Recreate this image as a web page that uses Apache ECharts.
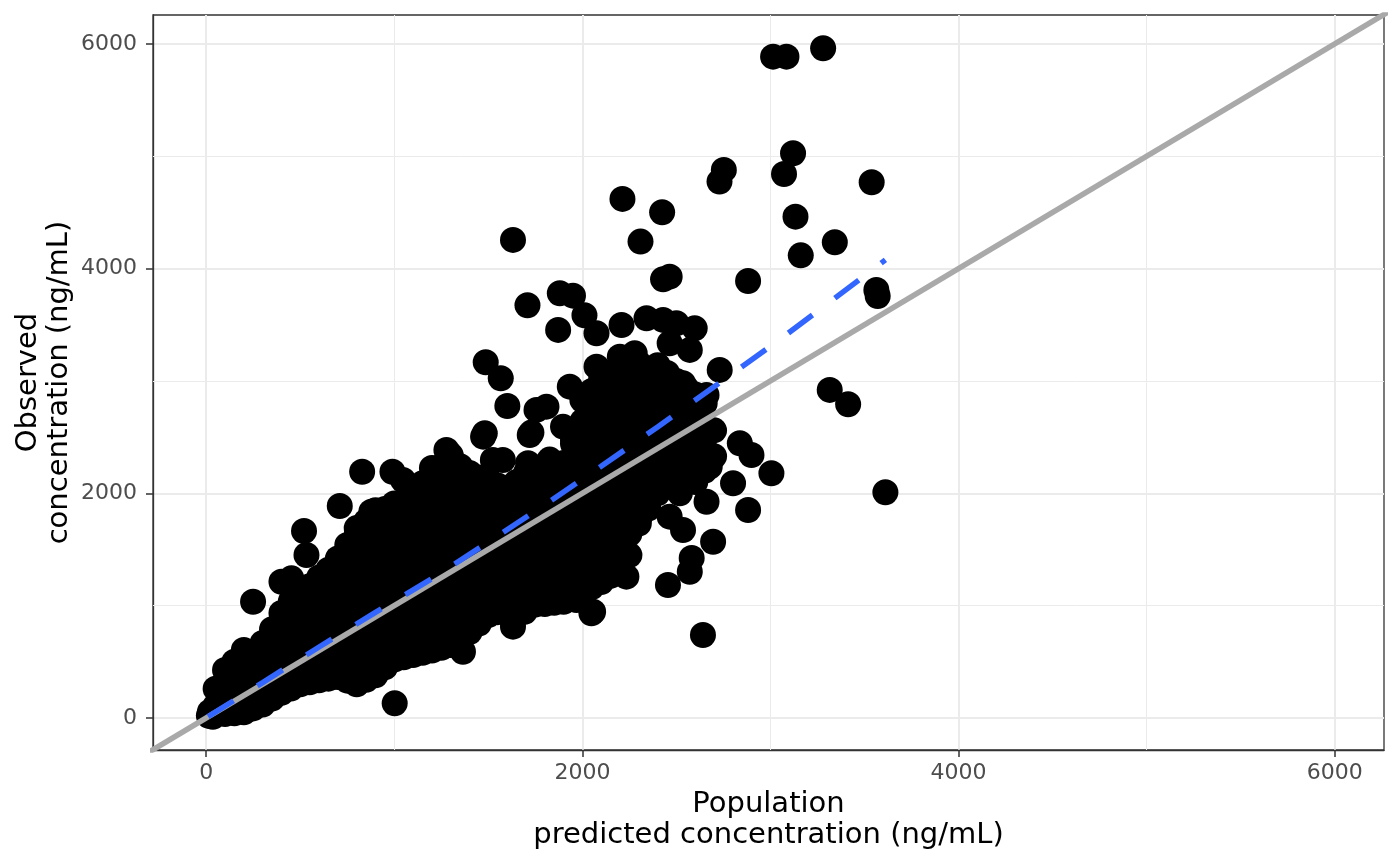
<!DOCTYPE html>
<html>
<head>
<meta charset="utf-8">
<title>Observed vs population predicted concentration</title>
<script src="https://cdn.jsdelivr.net/npm/echarts@6/dist/echarts.min.js"></script>
<style>
  html, body { margin: 0; padding: 0; background: #ffffff; }
  #chart { width: 1400px; height: 866px; }
</style>
</head>
<body>
<div id="chart"></div>
<script>
// axis ranges (ng/mL), same padding ggplot puts round the data
var xRange = [-283, 6262];
var yRange = [-285, 6257];
var majorTicks = [0, 2000, 4000, 6000];
var minorTicks = [1000, 3000, 5000];

// [population predicted, observed] - the solid cloud
var denseCloud = [
  [14, 20], [20, 55], [35, 10], [55, 40], [60, 90], [50, 110], [50, 260],
  [100, 35], [100, 130], [100, 320], [100, 427],
  [150, 42], [150, 137], [150, 327], [150, 500],
  [200, 50], [200, 240], [200, 430], [200, 605],
  [250, 85], [250, 180], [250, 370], [250, 560],
  [300, 120], [300, 210], [300, 400], [300, 590], [300, 668],
  [350, 172], [350, 267], [350, 457], [350, 647], [350, 790],
  [400, 225], [400, 420], [400, 610], [400, 800], [400, 935],
  [450, 262], [450, 357], [450, 547], [450, 737], [450, 927], [450, 1040],
  [500, 300], [500, 400], [500, 590], [500, 780], [500, 970], [500, 1160],
  [550, 317], [550, 412], [550, 602], [550, 792], [550, 982], [550, 1172],
  [600, 335], [600, 530], [600, 720], [600, 910], [600, 1100], [600, 1250],
  [650, 350], [650, 445], [650, 635], [650, 825], [650, 1015], [650, 1205], [650, 1320],
  [700, 365], [700, 460], [700, 650], [700, 840], [700, 1030], [700, 1220], [700, 1420],
  [750, 332], [750, 427], [750, 617], [750, 807], [750, 997], [750, 1187], [750, 1377], [750, 1540],
  [800, 300], [800, 490], [800, 680], [800, 870], [800, 1060], [800, 1250], [800, 1440], [800, 1630], [800, 1690],
  [850, 340], [850, 435], [850, 625], [850, 815], [850, 1005], [850, 1195], [850, 1385], [850, 1575], [850, 1750],
  [900, 380], [900, 475], [900, 665], [900, 855], [900, 1045], [900, 1235], [900, 1425], [900, 1615], [900, 1805], [900, 1850],
  [950, 450], [950, 545], [950, 735], [950, 925], [950, 1115], [950, 1305], [950, 1495], [950, 1685], [950, 1860],
  [1000, 520], [1000, 700], [1000, 890], [1000, 1080], [1000, 1270], [1000, 1460], [1000, 1650], [1000, 1840], [1000, 1910],
  [1050, 540], [1050, 635], [1050, 825], [1050, 1015], [1050, 1205], [1050, 1395], [1050, 1585], [1050, 1775], [1050, 1930],
  [1100, 560], [1100, 655], [1100, 845], [1100, 1035], [1100, 1225], [1100, 1415], [1100, 1605], [1100, 1795], [1100, 1980],
  [1150, 580], [1150, 675], [1150, 865], [1150, 1055], [1150, 1245], [1150, 1435], [1150, 1625], [1150, 1815], [1150, 2005], [1150, 2090],
  [1200, 600], [1200, 790], [1200, 980], [1200, 1170], [1200, 1360], [1200, 1550], [1200, 1740], [1200, 1930], [1200, 2120], [1200, 2225],
  [1250, 625], [1250, 720], [1250, 910], [1250, 1100], [1250, 1290], [1250, 1480], [1250, 1670], [1250, 1860], [1250, 2050], [1250, 2240],
  [1300, 650], [1300, 745], [1300, 935], [1300, 1125], [1300, 1315], [1300, 1505], [1300, 1695], [1300, 1885], [1300, 2075], [1300, 2265], [1300, 2340],
  [1350, 707], [1350, 802], [1350, 992], [1350, 1182], [1350, 1372], [1350, 1562], [1350, 1752], [1350, 1942], [1350, 2132], [1350, 2240],
  [1400, 765], [1400, 950], [1400, 1140], [1400, 1330], [1400, 1520], [1400, 1710], [1400, 1900], [1400, 2090], [1400, 2180],
  [1450, 840], [1450, 935], [1450, 1125], [1450, 1315], [1450, 1505], [1450, 1695], [1450, 1885], [1450, 2075], [1450, 2140],
  [1500, 915], [1500, 1010], [1500, 1200], [1500, 1390], [1500, 1580], [1500, 1770], [1500, 1960], [1500, 2120],
  [1550, 942], [1550, 1037], [1550, 1227], [1550, 1417], [1550, 1607], [1550, 1797], [1550, 1987], [1550, 2070],
  [1600, 970], [1600, 1160], [1600, 1350], [1600, 1540], [1600, 1730], [1600, 1920], [1600, 2050],
  [1650, 987], [1650, 1082], [1650, 1272], [1650, 1462], [1650, 1652], [1650, 1842], [1650, 2032], [1650, 2100],
  [1700, 1005], [1700, 1100], [1700, 1290], [1700, 1480], [1700, 1670], [1700, 1860], [1700, 2050], [1700, 2180],
  [1750, 1010], [1750, 1105], [1750, 1295], [1750, 1485], [1750, 1675], [1750, 1865], [1750, 2055], [1750, 2190],
  [1800, 1015], [1800, 1200], [1800, 1390], [1800, 1580], [1800, 1770], [1800, 1960], [1800, 2150], [1800, 2225],
  [1850, 1025], [1850, 1120], [1850, 1310], [1850, 1500], [1850, 1690], [1850, 1880], [1850, 2070], [1850, 2240],
  [1900, 1035], [1900, 1130], [1900, 1320], [1900, 1510], [1900, 1700], [1900, 1890], [1900, 2080], [1900, 2270],
  [1950, 1077], [1950, 1172], [1950, 1362], [1950, 1552], [1950, 1742], [1950, 1932], [1950, 2122], [1950, 2312], [1950, 2440],
  [2000, 1120], [2000, 1310], [2000, 1500], [2000, 1690], [2000, 1880], [2000, 2070], [2000, 2260], [2000, 2450], [2000, 2640], [2000, 2830],
  [2050, 1165], [2050, 1260], [2050, 1450], [2050, 1640], [2050, 1830], [2050, 2020], [2050, 2210], [2050, 2400], [2050, 2590], [2050, 2780], [2050, 2910],
  [2100, 1210], [2100, 1305], [2100, 1495], [2100, 1685], [2100, 1875], [2100, 2065], [2100, 2255], [2100, 2445], [2100, 2635], [2100, 2825], [2100, 3015],
  [2150, 1265], [2150, 1360], [2150, 1550], [2150, 1740], [2150, 1930], [2150, 2120], [2150, 2310], [2150, 2500], [2150, 2690], [2150, 2880], [2150, 3070],
  [2200, 1320], [2200, 1510], [2200, 1700], [2200, 1890], [2200, 2080], [2200, 2270], [2200, 2460], [2200, 2650], [2200, 2840], [2200, 3030], [2200, 3140],
  [2250, 1450], [2250, 1640], [2250, 1830], [2250, 2020], [2250, 2210], [2250, 2400], [2250, 2590], [2250, 2780], [2250, 2970], [2250, 3140],
  [2300, 1730], [2300, 1825], [2300, 2015], [2300, 2205], [2300, 2395], [2300, 2585], [2300, 2775], [2300, 2965], [2300, 3155],
  [2350, 1865], [2350, 1960], [2350, 2150], [2350, 2340], [2350, 2530], [2350, 2720], [2350, 2910], [2350, 3100],
  [2400, 2000], [2400, 2190], [2400, 2380], [2400, 2570], [2400, 2760], [2400, 2950], [2400, 3140],
  [2450, 2100], [2450, 2195], [2450, 2385], [2450, 2575], [2450, 2765], [2450, 2955], [2450, 3070],
  [2500, 2200], [2500, 2295], [2500, 2485], [2500, 2675], [2500, 2865], [2500, 3000],
  [2550, 2150], [2550, 2245], [2550, 2435], [2550, 2625], [2550, 2815], [2550, 2940],
  [2600, 2100], [2600, 2300], [2600, 2500], [2600, 2700], [2600, 2880],
  [2650, 2200], [2650, 2400], [2650, 2600], [2650, 2800],
  [2700, 2330], [2700, 2560],
  [1577, 2296], [1826, 2300]
];

// [population predicted, observed] - the points lying apart from the cloud
var scatteredPoints = [
  [3014, 5886], [3085, 5886], [3280, 5961], [3120, 5026], [3072, 4842],
  [2752, 4878], [2729, 4774], [3538, 4768], [3133, 4462], [3342, 4234],
  [3161, 4118], [2424, 4501], [2464, 3928], [2429, 3905], [2881, 3890],
  [3563, 3810], [3570, 3756], [1631, 4255], [2213, 4620], [2309, 4240],
  [1708, 3673], [1880, 3780], [1950, 3759], [2011, 3584], [2075, 3424],
  [1871, 3454], [2208, 3498], [2341, 3558], [2429, 3543], [2500, 3513],
  [2597, 3469], [2571, 3276], [2464, 3335], [1486, 3166], [1566, 3024],
  [1601, 2777], [2075, 3127], [2199, 3216], [2278, 3246], [2394, 3127],
  [2535, 2979], [2730, 3098], [2660, 2875], [1933, 2949], [1809, 2771],
  [1756, 2742], [1481, 2534], [1729, 2540], [1897, 2593], [1968, 2504],
  [2092, 2742], [2216, 2742], [2358, 2682], [2837, 2445], [2899, 2341],
  [3005, 2178], [3315, 2920], [3413, 2792], [3611, 2009], [2881, 1851],
  [2660, 1925], [2801, 2089], [2695, 1569], [2571, 1302], [2581, 1424],
  [2455, 1184], [2234, 1258], [2641, 739], [2048, 932], [2464, 1792],
  [2535, 1673], [2305, 1792], [2518, 2000], [2677, 2237], [2641, 2445],
  [2571, 2593], [2518, 2682], [2128, 1288], [1968, 1050], [1631, 847],
  [1693, 946], [829, 2192], [990, 2192], [1046, 2118], [710, 1887],
  [520, 1664], [533, 1451], [249, 1035], [400, 1213], [453, 1243],
  [878, 1836], [1277, 2385], [1472, 2504], [1720, 2519], [1524, 2296],
  [1711, 2267], [1844, 2267], [1950, 2474], [1631, 2059], [1862, 1970],
  [2057, 946], [1631, 813], [1365, 590], [1002, 131], [1684, 961],
  [2110, 1258]
];

// smooth fit (blue dashed curve) read at these predicted values
var fitX = [10, 300, 600, 900, 1200, 1500, 1800, 2100, 2400, 2700, 3000, 3300, 3611];
var fitY = [12, 315, 632, 940, 1240, 1565, 1897, 2240, 2590, 2948, 3308, 3683, 4077];

var fitLine = fitX.map(function (x, i) { return [x, fitY[i]]; });
var identityLine = [[-400, -400], [6400, 6400]];

// thin minor grid lines, drawn as mark lines under the points
var minorGrid = minorTicks.map(function (v) { return { xAxis: v }; })
  .concat(minorTicks.map(function (v) { return { yAxis: v }; }));

var textFont = 'DejaVu Sans';

function plainNumber(v) { return String(v); }

function valueAxis(range, opts) {
  return Object.assign({
    type: 'value',
    min: range[0],
    max: range[1],
    // axis line sits on the panel border, only there so the ticks get drawn
    axisLine: { show: true, onZero: false, lineStyle: { color: '#333333', width: 1.3 } },
    axisTick: {
      show: true, length: 7, inside: false, customValues: majorTicks,
      lineStyle: { color: '#333333', width: 1.5 }
    },
    splitLine: { show: true, lineStyle: { color: '#ebebeb', width: 2 } },
    nameLocation: 'middle',
    nameMoveOverlap: false,
    nameTextStyle: { color: '#000000', fontSize: 29, fontFamily: textFont, lineHeight: 31 }
  }, opts);
}

var chart = echarts.init(document.getElementById('chart'), null, { renderer: 'canvas' });

chart.setOption({
  animation: false,
  backgroundColor: '#ffffff',
  grid: {
    left: 153, top: 15, width: 1231, height: 735,
    outerBoundsMode: 'none', containLabel: false,
    show: true, borderColor: '#333333', borderWidth: 1.3, backgroundColor: 'transparent'
  },
  xAxis: valueAxis(xRange, {
    position: 'bottom',
    name: 'Population\npredicted concentration (ng/mL)',
    nameGap: 39,
    axisLabel: {
      customValues: majorTicks, formatter: plainNumber,
      color: '#4d4d4d', fontSize: 22, fontFamily: textFont, margin: 12
    }
  }),
  yAxis: valueAxis(yRange, {
    position: 'left',
    name: 'Observed\nconcentration (ng/mL)',
    nameGap: 78,
    axisLabel: {
      customValues: majorTicks, formatter: plainNumber,
      color: '#4d4d4d', fontSize: 22, fontFamily: textFont, margin: 16
    }
  }),
  series: [
    {
      type: 'scatter', name: 'minor grid', data: [], z: 1, silent: true,
      markLine: {
        z: 1, silent: true, symbol: 'none', animation: false,
        label: { show: false },
        emphasis: { disabled: true },
        lineStyle: { color: '#ebebeb', width: 1, type: 'solid' },
        data: minorGrid
      }
    },
    {
      type: 'scatter', name: 'cloud', data: denseCloud, z: 2,
      symbolSize: 26, itemStyle: { color: '#000000', opacity: 1 }
    },
    {
      type: 'scatter', name: 'outlying', data: scatteredPoints, z: 2,
      symbolSize: 26, itemStyle: { color: '#000000', opacity: 1 }
    },
    {
      type: 'line', name: 'identity', data: identityLine, z: 3,
      symbol: 'none', clip: true, silent: true,
      lineStyle: { color: '#a9a9a9', width: 5.5 }
    },
    {
      type: 'line', name: 'fit', data: fitLine, z: 4,
      symbol: 'none', smooth: false, clip: true, silent: true,
      lineStyle: { color: '#3366ff', width: 5.5, type: [30, 28], cap: 'butt' }
    }
  ]
});
</script>
</body>
</html>
